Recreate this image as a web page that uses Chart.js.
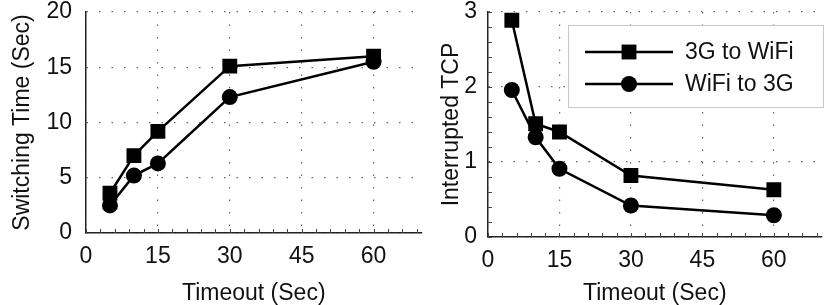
<!DOCTYPE html>
<html>
<head>
<meta charset="utf-8">
<script src="https://cdn.jsdelivr.net/npm/chart.js@4.4.1/dist/chart.umd.min.js"></script>
<style>
  html, body { margin: 0; padding: 0; background: #fff; }
  #wrap { position: relative; width: 832px; height: 305px; overflow: hidden; }
  #leftBox { position: absolute; left: 0; top: 0; width: 432px; height: 305px; }
  #rightBox { position: absolute; left: 432px; top: 0; width: 400px; height: 305px; }
</style>
</head>
<body>
<div id="wrap">
  <div id="leftBox"><canvas id="switchChart" width="432" height="305"></canvas></div>
  <div id="rightBox"><canvas id="tcpChart" width="400" height="305"></canvas></div>
</div>
<script>
// ---- data ----
const TIMEOUTS = [5, 10, 15, 30, 60];

const SWITCH_3G_WIFI = [3.6, 7.0, 9.2, 15.1, 16.0];
const SWITCH_WIFI_3G = [2.5, 5.2, 6.3, 12.3, 15.5];

const TCP_3G_WIFI = [2.89, 1.51, 1.40, 0.82, 0.63];
const TCP_WIFI_3G = [1.96, 1.33, 0.91, 0.42, 0.29];

const X_TICKS = [0, 15, 30, 45, 60];
const Y_TICKS_SWITCH = [0, 5, 10, 15, 20];
const Y_TICKS_TCP = [0, 1, 2, 3];

const SERIES_NAMES = ['3G to WiFi', 'WiFi to 3G'];

const FONT = '"Liberation Sans", Arial, Helvetica, sans-serif';
const FONT_SIZE = 23;
const INK = '#111';

// small inward ticks along the axis lines
const minorTicks = {
  id: 'minorTicks',
  afterDraw(chart, args, opts) {
    const ctx = chart.ctx;
    const area = chart.chartArea;
    ctx.save();
    ctx.strokeStyle = '#444';
    ctx.lineWidth = 1;
    ctx.beginPath();
    if (opts.x) {
      const sx = chart.scales.x;
      for (let v = sx.min; v <= sx.max + 1e-9; v += opts.x) {
        const px = Math.round(sx.getPixelForValue(v)) + 0.5;
        ctx.moveTo(px, area.bottom);
        ctx.lineTo(px, area.bottom - 4);
      }
    }
    if (opts.y) {
      const sy = chart.scales.y;
      for (let v = sy.min; v <= sy.max + 1e-9; v += opts.y) {
        const py = Math.round(sy.getPixelForValue(v)) + 0.5;
        ctx.moveTo(area.left, py);
        ctx.lineTo(area.left + 4, py);
      }
    }
    ctx.stroke();
    ctx.restore();
  }
};

// boxed legend drawn inside the plot
const legendBox = {
  id: 'legendBox',
  afterDraw(chart, args, opts) {
    if (!opts.display) return;
    const ctx = chart.ctx;
    ctx.save();
    ctx.fillStyle = '#fff';
    ctx.strokeStyle = '#c8c8c8';
    ctx.lineWidth = 1;
    ctx.fillRect(opts.x, opts.y, opts.w, opts.h);
    ctx.strokeRect(opts.x + 0.5, opts.y + 0.5, opts.w, opts.h);
    ctx.font = FONT_SIZE + 'px ' + FONT;
    ctx.textBaseline = 'middle';
    const rows = chart.data.datasets.slice().sort((a, b) => a.legendRow - b.legendRow);
    rows.forEach((ds, i) => {
      const y = opts.y + opts.rowTop + i * opts.rowGap;
      ctx.strokeStyle = ds.borderColor;
      ctx.lineWidth = ds.borderWidth;
      ctx.beginPath();
      ctx.moveTo(opts.x + opts.lineStart, y);
      ctx.lineTo(opts.x + opts.lineEnd, y);
      ctx.stroke();
      ctx.fillStyle = ds.pointBackgroundColor;
      Chart.helpers.drawPoint(ctx, {
        pointStyle: ds.pointStyle, radius: ds.pointRadius, borderWidth: 0, rotation: 0
      }, opts.x + (opts.lineStart + opts.lineEnd) / 2, y);
      ctx.fillStyle = INK;
      ctx.fillText(ds.label, opts.x + opts.textX, y + 1);
    });
    ctx.restore();
  }
};

function makeDataset(label, values, style, order, legendRow) {
  return {
    label,
    data: TIMEOUTS.map((t, i) => ({ x: t, y: values[i] })),
    borderColor: '#000',
    backgroundColor: '#000',
    borderWidth: 2.5,
    pointStyle: style,
    pointRadius: style === 'rect' ? 10.5 : 8,
    pointBackgroundColor: '#000',
    pointBorderColor: '#000',
    pointBorderWidth: 0,
    order,
    legendRow,
  };
}

function buildChart(canvasId, cfg) {
  return new Chart(document.getElementById(canvasId), {
    type: 'line',
    data: {
      datasets: [
        makeDataset(SERIES_NAMES[1], cfg.circles, 'circle', 0, 1),
        makeDataset(SERIES_NAMES[0], cfg.squares, 'rect', 1, 0),
      ]
    },
    options: {
      responsive: false,
      animation: false,
      events: [],
      layout: { padding: { top: cfg.padTop, right: cfg.padRight, left: 0, bottom: 0 } },
      plugins: {
        legend: { display: false },
        tooltip: { enabled: false },
        minorTicks: { x: 3, y: cfg.minorY },
        legendBox: cfg.legend,
      },
      scales: {
        x: {
          type: 'linear',
          min: 0, max: 70,
          afterBuildTicks: s => { s.ticks = X_TICKS.map(v => ({ value: v })); },
          afterFit: s => { s.height = cfg.xHeight; s.paddingLeft = 0; s.paddingRight = 0; },
          grid: { color: '#666', lineWidth: 1.2, drawTicks: false },
          border: { display: true, color: '#222', width: 1.5, dash: [1.5, 11] },
          ticks: { color: INK, font: { family: FONT, size: FONT_SIZE }, padding: 10, maxRotation: 0 },
          title: {
            display: true, text: 'Timeout (Sec)', color: INK,
            font: { family: FONT, size: FONT_SIZE, lineHeight: 1 },
            padding: { top: cfg.xTitlePad, bottom: 0 }
          }
        },
        y: {
          type: 'linear',
          min: 0, max: cfg.yMax,
          afterBuildTicks: s => { s.ticks = cfg.yTicks.map(v => ({ value: v })); },
          afterFit: s => { s.width = cfg.yWidth; s.paddingTop = 0; s.paddingBottom = 0; },
          grid: { color: '#666', lineWidth: 1.2, drawTicks: false },
          border: { display: true, color: '#222', width: 1.5, dash: [1.5, 11] },
          ticks: { color: INK, font: { family: FONT, size: FONT_SIZE }, padding: cfg.yTickPad },
          title: {
            display: true, text: cfg.yTitle, color: INK,
            font: { family: FONT, size: FONT_SIZE, lineHeight: 1 },
            padding: { top: cfg.yTitlePad, bottom: 0 }
          }
        }
      }
    },
    plugins: [minorTicks, legendBox]
  });
}

buildChart('switchChart', {
  squares: SWITCH_3G_WIFI,
  circles: SWITCH_WIFI_3G,
  yMax: 20,
  yTicks: Y_TICKS_SWITCH,
  yTitle: 'Switching Time (Sec)',
  yWidth: 86,
  yTickPad: 14,
  yTitlePad: 11,
  xHeight: 72,
  xTitlePad: 7.5,
  padTop: 12,
  padRight: 5.5,
  minorY: 0,
  legend: { display: false },
});

buildChart('tcpChart', {
  squares: TCP_3G_WIFI,
  circles: TCP_WIFI_3G,
  yMax: 3,
  yTicks: Y_TICKS_TCP,
  yTitle: 'Interrupted TCP',
  yWidth: 56,
  yTickPad: 11,
  yTitlePad: 8,
  xHeight: 68,
  xTitlePad: 3,
  padTop: 12,
  padRight: 7,
  minorY: 0.2,
  legend: {
    display: true, x: 136, y: 25, w: 255, h: 82,
    lineStart: 17, lineEnd: 105, textX: 117, rowTop: 27, rowGap: 32
  },
});
</script>
</body>
</html>
